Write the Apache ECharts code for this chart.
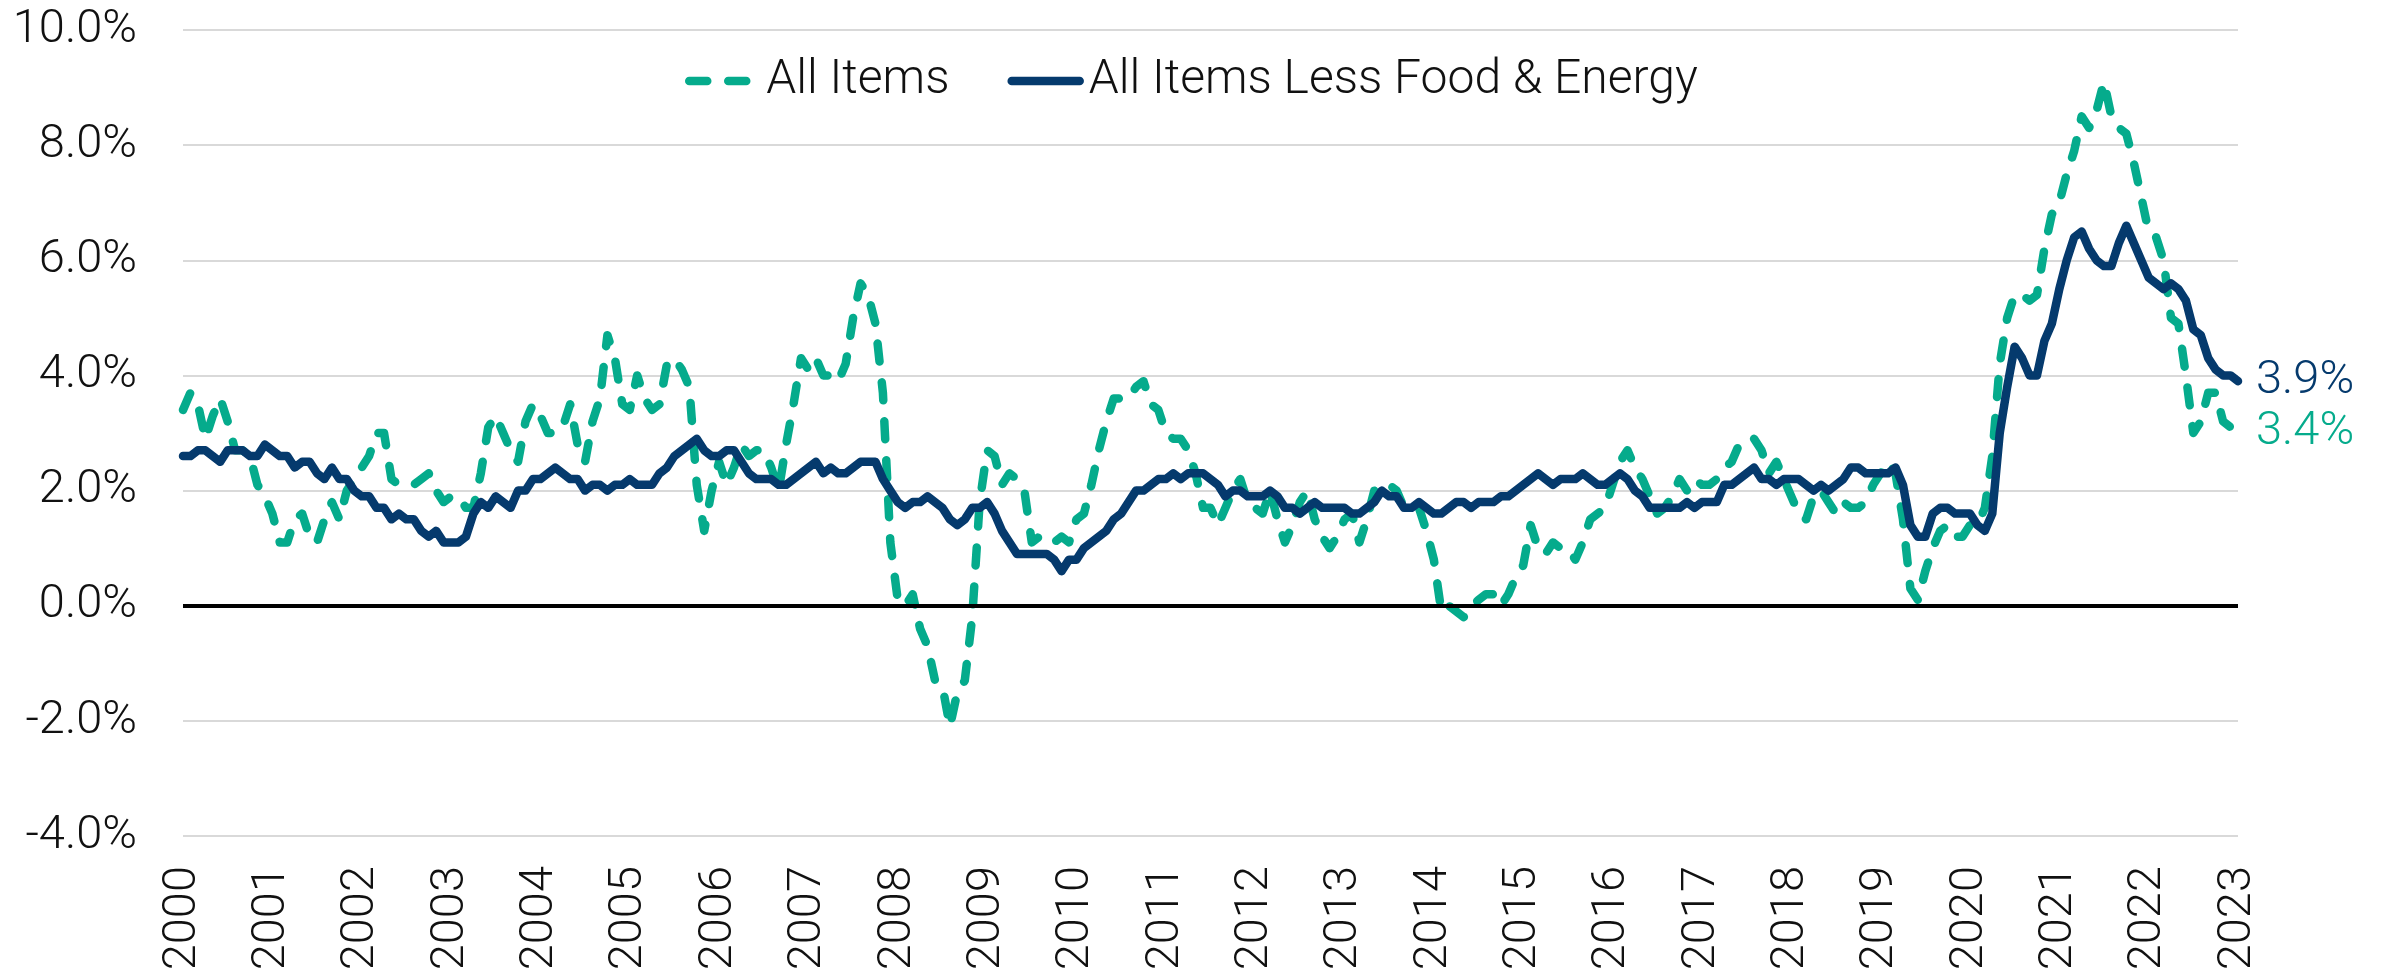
<!DOCTYPE html>
<html>
<head>
<meta charset="utf-8">
<title>CPI</title>
<script src="https://cdn.jsdelivr.net/npm/echarts@6/dist/echarts.min.js"></script>
<style>
    html, body { margin: 0; padding: 0; background: #fff; }
    #main { width: 2387px; height: 976px; }
</style>
</head>
<body>
<div id="main"></div>
<script>
// monthly, Dec 2000 .. Dec 2023 (year-over-year %)
const allItems = [
    3.4,
    3.7, 3.5, 2.9, 3.3, 3.6, 3.2, 2.7, 2.7, 2.6, 2.1, 1.9, 1.6,
    1.1, 1.1, 1.5, 1.6, 1.2, 1.1, 1.5, 1.8, 1.5, 2.0, 2.2, 2.4,
    2.6, 3.0, 3.0, 2.2, 2.1, 2.1, 2.1, 2.2, 2.3, 2.0, 1.8, 1.9,
    1.9, 1.7, 1.7, 2.3, 3.1, 3.3, 3.0, 2.7, 2.5, 3.2, 3.5, 3.3,
    3.0, 3.0, 3.1, 3.5, 2.8, 2.5, 3.2, 3.6, 4.7, 4.3, 3.5, 3.4,
    4.0, 3.6, 3.4, 3.5, 4.2, 4.3, 4.1, 3.8, 2.1, 1.3, 2.0, 2.5,
    2.1, 2.4, 2.8, 2.6, 2.7, 2.7, 2.4, 2.0, 2.8, 3.5, 4.3, 4.1,
    4.3, 4.0, 4.0, 3.9, 4.2, 5.0, 5.6, 5.4, 4.9, 3.7, 1.1, 0.1,
    0.0, 0.2, -0.4, -0.7, -1.3, -1.4, -2.1, -1.5, -1.3, -0.2, 1.8, 2.7,
    2.6, 2.1, 2.3, 2.2, 2.0, 1.1, 1.2, 1.1, 1.1, 1.2, 1.1, 1.5,
    1.6, 2.1, 2.7, 3.2, 3.6, 3.6, 3.6, 3.8, 3.9, 3.5, 3.4, 3.0,
    2.9, 2.9, 2.7, 2.3, 1.7, 1.7, 1.4, 1.7, 2.0, 2.2, 1.8, 1.7,
    1.6, 2.0, 1.5, 1.1, 1.4, 1.8, 2.0, 1.5, 1.2, 1.0, 1.2, 1.5,
    1.6, 1.1, 1.5, 2.0, 2.1, 2.1, 2.0, 1.7, 1.7, 1.7, 1.3, 0.8,
    -0.1, 0.0, -0.1, -0.2, 0.0, 0.1, 0.2, 0.2, 0.0, 0.2, 0.5, 0.7,
    1.4, 1.0, 0.9, 1.1, 1.0, 1.0, 0.8, 1.1, 1.5, 1.6, 1.7, 2.1,
    2.5, 2.7, 2.4, 2.2, 1.9, 1.6, 1.7, 1.9, 2.2, 2.0, 2.2, 2.1,
    2.1, 2.2, 2.4, 2.5, 2.8, 2.9, 2.9, 2.7, 2.3, 2.5, 2.2, 1.9,
    1.6, 1.5, 1.9, 2.0, 1.8, 1.6, 1.8, 1.7, 1.7, 1.8, 2.1, 2.3,
    2.5, 2.3, 1.5, 0.3, 0.1, 0.6, 1.0, 1.3, 1.4, 1.2, 1.2, 1.4,
    1.4, 1.7, 2.6, 4.2, 5.0, 5.4, 5.4, 5.3, 5.4, 6.2, 6.8, 7.0,
    7.5, 7.9, 8.5, 8.3, 8.6, 9.1, 8.5, 8.3, 8.2, 7.7, 7.1, 6.5,
    6.4, 6.0, 5.0, 4.9, 4.0, 3.0, 3.2, 3.7, 3.7, 3.2, 3.1, 3.4,
]
const lessFoodEnergy = [
    2.6,
    2.6, 2.7, 2.7, 2.6, 2.5, 2.7, 2.7, 2.7, 2.6, 2.6, 2.8, 2.7,
    2.6, 2.6, 2.4, 2.5, 2.5, 2.3, 2.2, 2.4, 2.2, 2.2, 2.0, 1.9,
    1.9, 1.7, 1.7, 1.5, 1.6, 1.5, 1.5, 1.3, 1.2, 1.3, 1.1, 1.1,
    1.1, 1.2, 1.6, 1.8, 1.7, 1.9, 1.8, 1.7, 2.0, 2.0, 2.2, 2.2,
    2.3, 2.4, 2.3, 2.2, 2.2, 2.0, 2.1, 2.1, 2.0, 2.1, 2.1, 2.2,
    2.1, 2.1, 2.1, 2.3, 2.4, 2.6, 2.7, 2.8, 2.9, 2.7, 2.6, 2.6,
    2.7, 2.7, 2.5, 2.3, 2.2, 2.2, 2.2, 2.1, 2.1, 2.2, 2.3, 2.4,
    2.5, 2.3, 2.4, 2.3, 2.3, 2.4, 2.5, 2.5, 2.5, 2.2, 2.0, 1.8,
    1.7, 1.8, 1.8, 1.9, 1.8, 1.7, 1.5, 1.4, 1.5, 1.7, 1.7, 1.8,
    1.6, 1.3, 1.1, 0.9, 0.9, 0.9, 0.9, 0.9, 0.8, 0.6, 0.8, 0.8,
    1.0, 1.1, 1.2, 1.3, 1.5, 1.6, 1.8, 2.0, 2.0, 2.1, 2.2, 2.2,
    2.3, 2.2, 2.3, 2.3, 2.3, 2.2, 2.1, 1.9, 2.0, 2.0, 1.9, 1.9,
    1.9, 2.0, 1.9, 1.7, 1.7, 1.6, 1.7, 1.8, 1.7, 1.7, 1.7, 1.7,
    1.6, 1.6, 1.7, 1.8, 2.0, 1.9, 1.9, 1.7, 1.7, 1.8, 1.7, 1.6,
    1.6, 1.7, 1.8, 1.8, 1.7, 1.8, 1.8, 1.8, 1.9, 1.9, 2.0, 2.1,
    2.2, 2.3, 2.2, 2.1, 2.2, 2.2, 2.2, 2.3, 2.2, 2.1, 2.1, 2.2,
    2.3, 2.2, 2.0, 1.9, 1.7, 1.7, 1.7, 1.7, 1.7, 1.8, 1.7, 1.8,
    1.8, 1.8, 2.1, 2.1, 2.2, 2.3, 2.4, 2.2, 2.2, 2.1, 2.2, 2.2,
    2.2, 2.1, 2.0, 2.1, 2.0, 2.1, 2.2, 2.4, 2.4, 2.3, 2.3, 2.3,
    2.3, 2.4, 2.1, 1.4, 1.2, 1.2, 1.6, 1.7, 1.7, 1.6, 1.6, 1.6,
    1.4, 1.3, 1.6, 3.0, 3.8, 4.5, 4.3, 4.0, 4.0, 4.6, 4.9, 5.5,
    6.0, 6.4, 6.5, 6.2, 6.0, 5.9, 5.9, 6.3, 6.6, 6.3, 6.0, 5.7,
    5.6, 5.5, 5.6, 5.5, 5.3, 4.8, 4.7, 4.3, 4.1, 4.0, 4.0, 3.9,
]
// category labels: one per month, first is Dec 2000
const months = []
for (let i = 0; i < allItems.length; i++) {
    const m = 11 + i
    months.push(`${2000 + Math.floor(m / 12)}-${String((m % 12) + 1).padStart(2, '0')}`)
}

const green = '#05ab8c'
const navy = '#053a6d'
const font = 'Roboto'

const chart = echarts.init(document.getElementById('main'))
chart.setOption({
    animation: false,
    textStyle: { fontFamily: font },
    grid: { left: 183, right: 149, top: 30, bottom: 140 },
    legend: {
        data: ['All Items', 'All Items Less Food & Energy'],
        left: 680,
        top: 52,
        itemWidth: 68,
        itemHeight: 12,
        itemGap: 58,
        itemStyle: { color: 'transparent', borderWidth: 0, opacity: 0 },
        lineStyle: { width: 8.5, cap: 'round' },
        textStyle: { fontSize: 48, fontWeight: 300, color: '#111', fontFamily: font, padding: [0, 0, 0, 4] },
    },
    xAxis: {
        type: 'category',
        data: months,
        boundaryGap: false,
        axisLine: { show: false },
        axisTick: { show: false },
        axisLabel: {
            interval: 11,
            rotate: 90,
            margin: 30,
            fontSize: 47,
            fontWeight: 300,
            color: '#111',
            formatter: (v) => v.slice(0, 4),
        },
    },
    yAxis: {
        type: 'value',
        min: -4,
        max: 10,
        interval: 2,
        axisLine: { show: false },
        axisTick: { show: false },
        splitLine: { lineStyle: { color: '#d9d9d9', width: 2 } },
        axisLabel: {
            margin: 46,
            fontSize: 47,
            fontWeight: 300,
            color: '#111',
            formatter: (v) => v.toFixed(1) + '%',
        },
    },
    series: [
        {
            name: 'All Items',
            type: 'line',
            data: allItems,
            symbol: 'none',
            color: green,
            lineStyle: { width: 8.5, color: green, type: [18, 21], cap: 'round', join: 'round' },
            endLabel: {
                show: true,
                distance: 18,
                offset: [0, 22],
                fontSize: 47,
                fontWeight: 300,
                color: green,
                formatter: (p) => p.value.toFixed(1) + '%',
            },
        },
        {
            name: 'All Items Less Food & Energy',
            type: 'line',
            data: lessFoodEnergy,
            symbol: 'none',
            color: navy,
            lineStyle: { width: 8.5, color: navy, cap: 'round', join: 'round' },
            endLabel: {
                show: true,
                distance: 18,
                fontSize: 47,
                fontWeight: 300,
                color: navy,
                formatter: (p) => p.value.toFixed(1) + '%',
            },
            markLine: {
                silent: true,
                symbol: 'none',
                label: { show: false },
                lineStyle: { color: '#000', width: 4, type: 'solid' },
                data: [{ yAxis: 0 }],
            },
        },
    ],
})
</script>
</body>
</html>
